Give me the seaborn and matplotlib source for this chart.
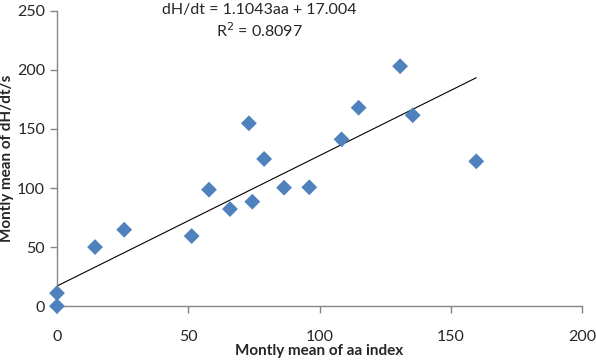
import numpy as np
import pandas as pd
import matplotlib
matplotlib.use('Agg')
import matplotlib.pyplot as plt
import seaborn as sns

# monthly means
aa_index = [0, 0, 14.5, 25.6, 51.3, 57.9, 65.9, 74.4, 86.5, 96.1,
            73.1, 78.9, 108.4, 114.9, 130.7, 135.5, 159.7]
dh_dt = [0, 11, 50, 64.7, 59.3, 98.6, 82.2, 88.4, 100.3, 100.6,
         154.8, 124.6, 141.2, 168, 203.1, 161.6, 122.6]

slope = 1.1043
intercept = 17.004
r2 = 0.8097

data = pd.DataFrame({'aa': aa_index, 'dHdt': dh_dt})

sns.set_style('white')
plt.rcParams['font.family'] = ['Lato', 'DejaVu Sans']

fig = plt.figure(figsize=(5.96, 3.61), dpi=100)
ax = fig.add_axes([0.0956, 0.152, 0.881, 0.818])

sns.scatterplot(data=data, x='aa', y='dHdt', marker='D', s=65,
                color='#4F81BD', edgecolor='none', ax=ax, zorder=3, clip_on=False)

# linear trendline
xs = np.array([0, max(aa_index)])
ax.plot(xs, slope * xs + intercept, color='black', lw=0.8, zorder=2)

ax.set_xlim(0, 200)
ax.set_ylim(0, 250)
ax.set_xticks([0, 50, 100, 150, 200])
ax.set_yticks([0, 50, 100, 150, 200, 250])

for side in ['top', 'right']:
    ax.spines[side].set_visible(False)
for side in ['left', 'bottom']:
    ax.spines[side].set_color('#868686')
    ax.spines[side].set_linewidth(1)

ax.tick_params(axis='both', direction='out', length=5, width=1, color='#868686',
               labelsize=11.5, bottom=True, left=True)
ax.tick_params(axis='x', pad=12)

ax.set_xlabel('Montly mean of aa index', fontsize=11, fontweight='bold', labelpad=0)
ax.set_ylabel('Montly mean of dH/dt/s', fontsize=11, fontweight='bold', labelpad=2)

fig.text(0.4346, 1 - 3 / 361, f'dH/dt = {slope}aa + {intercept:.3f}\nR$^2$ = {r2}',
         ha='center', va='top', fontsize=11.5, linespacing=1.3,
         multialignment='center')

fig.savefig('out.png', dpi=100)
